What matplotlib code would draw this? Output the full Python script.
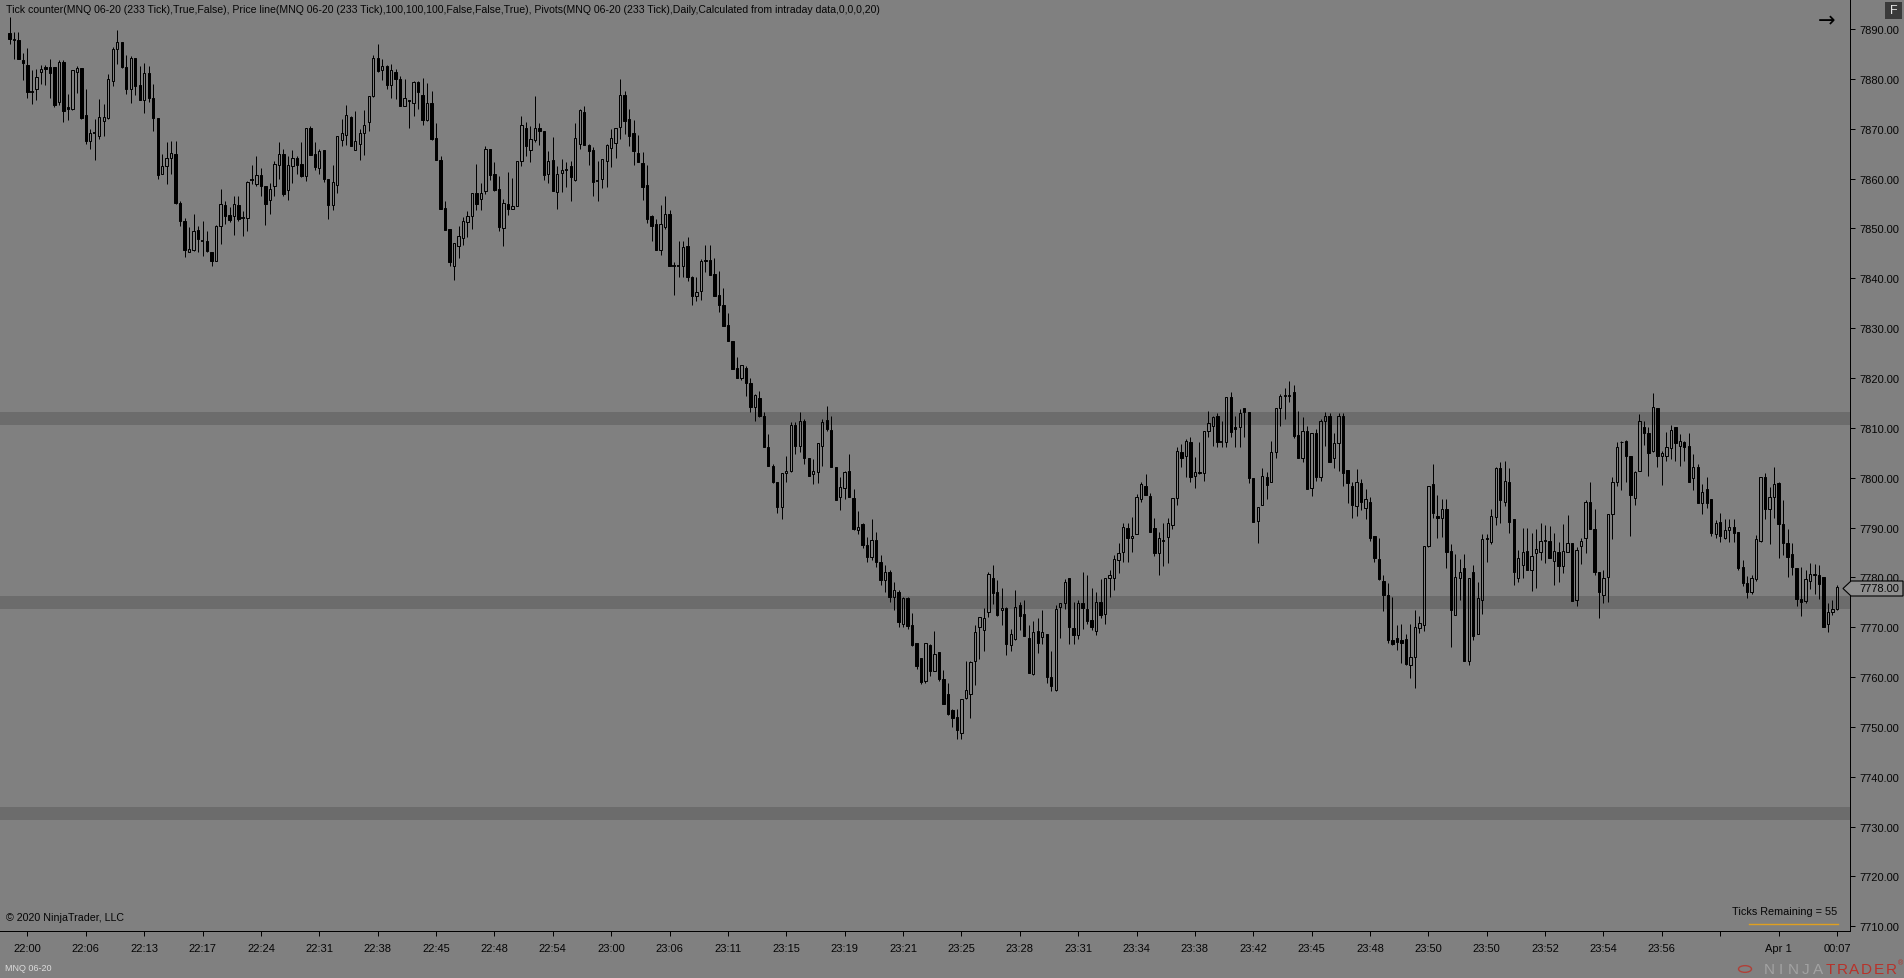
import matplotlib
matplotlib.use("Agg")
import matplotlib.pyplot as plt
from matplotlib.patches import Polygon, Rectangle
import numpy as np

# ---------------- data ----------------
opens = [
7889.2,7887.7,7887.8,7883.8,7882.8,7877.3,7877.9,7881.3,7882.3,7882.3,
7882.3,7875.3,7883.3,7874.3,7873.9,7881.3,7882.2,7872.8,7867.5,7869.1,
7868.5,7871.6,7872.1,7879.6,7885.9,7887.3,7882.3,7878.0,7884.2,7878.8,
7875.8,7881.2,7876.2,7872.1,7860.9,7862.6,7864.1,7865.0,7855.1,7851.4,
7845.3,7845.7,7849.7,7847.4,7847.4,7845.2,7843.5,7850.5,7854.7,7852.7,
7852.4,7854.6,7852.0,7852.0,7859.8,7858.9,7860.7,7858.6,7855.6,7858.6,
7862.8,7864.9,7857.8,7862.6,7864.1,7862.9,7860.6,7870.1,7864.9,7862.1,
7865.7,7860.0,7854.6,7858.8,7867.8,7868.7,7872.3,7865.8,7866.9,7869.1,
7871.3,7876.6,7884.1,7881.8,7882.6,7878.8,7881.3,7880.0,7874.6,7875.6,
7875.2,7879.4,7876.8,7871.8,7875.2,7868.1,7863.7,7854.1,7849.9,7842.5,
7846.5,7848.0,7851.3,7852.4,7857.1,7855.8,7857.6,7865.9,7860.9,7857.9,
7850.0,7854.9,7853.9,7854.4,7863.5,7870.1,7865.8,7867.8,7870.1,7869.6,
7861.0,7863.7,7857.4,7861.1,7861.9,7862.6,7859.8,7866.9,7873.3,7866.7,
7865.7,7859.6,7860.0,7863.6,7866.1,7867.1,7870.3,7876.8,7872.0,7869.1,
7865.1,7863.1,7858.7,7852.4,7850.8,7845.7,7850.2,7852.9,7842.4,7842.4,
7842.4,7846.4,7840.2,7836.4,7837.4,7843.7,7843.7,7840.8,7836.6,7834.6,
7830.6,7827.4,7821.9,7820.0,7822.0,7819.0,7814.1,7815.9,7812.3,7806.1,
7802.3,7799.1,7794.1,7800.9,7801.3,7810.6,7806.4,7811.4,7803.9,7800.7,
7801.1,7806.4,7811.6,7809.6,7802.1,7796.1,7797.9,7801.3,7796.0,7789.6,
7790.7,7786.5,7784.0,7787.5,7783.0,7779.5,7781.0,7776.0,7777.0,7770.6,
7775.8,7770.4,7766.8,7763.8,7759.3,7766.5,7761.3,7765.0,7759.6,7756.6,
7753.4,7751.9,7748.7,7755.7,7756.7,7763.3,7770.0,7769.5,7773.0,7779.8,
7777.0,7773.4,7773.9,7766.5,7767.6,7774.5,7772.6,7767.8,7760.6,7769.3,
7768.0,7768.6,7760.0,7757.5,7774.0,7774.8,7779.8,7769.8,7768.5,7774.8,
7773.7,7771.4,7769.3,7775.0,7772.6,7779.8,7779.8,7783.5,7785.0,7790.0,
7787.8,7788.6,7795.7,7798.3,7796.4,7789.9,7784.8,7787.2,7788.0,7790.6,
7796.0,7805.1,7804.3,7807.1,7800.3,7801.2,7800.9,7809.3,7810.3,7812.3,
7807.1,7807.1,7816.1,7810.1,7810.1,7813.9,7813.1,7799.9,7791.4,7794.6,
7800.2,7799.1,7805.1,7813.9,7816.3,7816.4,7817.1,7808.6,7804.0,7809.3,
7797.9,7808.9,7800.2,7811.3,7812.3,7804.0,7806.9,7812.3,7801.5,7798.3,
7794.3,7798.9,7793.9,7795.2,7788.2,7783.7,7779.3,7776.5,7767.5,7767.8,
7767.4,7767.6,7762.5,7764.0,7769.8,7770.5,7786.2,7798.7,7792.4,7791.9,
7793.7,7785.2,7772.5,7779.8,7781.8,7763.2,7781.0,7768.6,7775.5,7787.8,
7787.0,7792.2,7801.9,7795.2,7799.1,7791.8,7779.8,7782.5,7785.2,7781.5,
7784.8,7785.0,7787.2,7787.2,7783.2,7785.0,7782.2,7785.0,7786.8,7775.5,
7786.2,7787.8,7795.2,7789.7,7781.0,7776.5,7780.0,7792.8,7799.1,7807.1,
7807.4,7804.3,7796.0,7801.4,7810.1,7808.9,7805.3,7813.9,7804.3,7804.4,
7805.9,7810.1,7806.4,7807.2,7806.3,7799.9,7802.1,7794.9,7797.7,7795.8,
7788.7,7791.2,7787.8,7789.6,7790.2,7789.0,7782.0,7778.8,7777.0,7779.7,
7787.2,7800.1,7793.7,7796.2,7798.9,7790.7,7786.9,7784.7,7781.8,7775.7,
7775.3,7779.2,7780.5,7780.5,7780.0,7770.7,7773.1,7773.7]

highs = [
7892.5,7889.5,7889.5,7885.2,7886.2,7881.7,7882.0,7882.8,7882.7,7884.0,
7882.3,7883.7,7883.7,7877.0,7881.8,7882.5,7882.2,7878.0,7870.0,7872.0,
7876.0,7875.0,7881.0,7886.3,7889.8,7887.3,7884.7,7884.5,7884.2,7882.6,
7883.2,7882.6,7879.0,7872.1,7865.0,7867.3,7867.6,7867.6,7855.4,7852.0,
7850.2,7852.9,7850.5,7851.5,7849.5,7845.2,7850.6,7857.9,7855.4,7854.2,
7856.6,7856.6,7853.4,7859.6,7862.7,7864.6,7862.2,7858.6,7859.2,7863.6,
7867.3,7865.9,7864.6,7865.8,7864.6,7867.3,7870.1,7870.5,7867.3,7866.0,
7865.8,7860.0,7862.7,7868.5,7872.0,7874.8,7872.6,7873.5,7870.0,7873.8,
7876.6,7884.8,7887.0,7884.0,7882.8,7883.0,7882.0,7880.5,7880.0,7875.8,
7879.6,7879.6,7880.1,7879.2,7877.6,7871.1,7864.6,7855.4,7849.9,7847.1,
7850.4,7852.2,7853.5,7857.1,7862.9,7859.2,7866.5,7865.9,7863.3,7860.6,
7855.8,7861.4,7860.2,7863.6,7872.5,7871.3,7870.5,7876.5,7871.1,7869.6,
7865.6,7868.4,7862.6,7863.9,7863.3,7863.6,7871.1,7874.0,7874.6,7866.9,
7866.3,7863.5,7863.9,7866.9,7869.9,7870.1,7880.0,7877.5,7874.0,7871.7,
7868.7,7865.3,7862.7,7852.6,7851.9,7854.7,7856.6,7853.6,7843.3,7847.5,
7847.5,7848.2,7840.5,7840.2,7843.9,7846.7,7846.7,7844.0,7841.5,7838.1,
7833.0,7827.4,7824.3,7822.6,7822.3,7820.0,7816.8,7817.3,7813.1,7808.8,
7802.7,7799.2,7800.9,7804.4,7811.1,7811.1,7813.1,7811.8,7803.9,7803.7,
7806.9,7811.8,7814.4,7812.3,7802.1,7800.1,7801.4,7804.7,7797.7,7793.4,
7791.0,7788.0,7791.8,7789.0,7784.5,7782.5,7781.5,7779.0,7777.5,7776.0,
7776.0,7772.8,7766.8,7763.8,7766.8,7766.6,7769.2,7765.0,7761.4,7758.8,
7753.6,7753.6,7755.5,7763.2,7763.2,7770.5,7772.0,7773.8,7781.1,7782.5,
7779.5,7777.8,7774.1,7769.6,7777.5,7775.0,7775.5,7770.5,7771.2,7771.8,
7773.4,7768.6,7765.3,7774.4,7774.8,7779.7,7779.8,7775.0,7775.5,7781.1,
7780.5,7777.8,7777.0,7779.7,7779.8,7781.5,7784.5,7786.9,7791.0,7791.0,
7792.2,7796.7,7799.2,7800.7,7796.9,7792.0,7789.0,7791.0,7792.0,7796.0,
7806.1,7806.7,7807.8,7808.1,7804.1,7807.2,7809.3,7813.3,7812.4,7812.9,
7811.4,7816.1,7817.1,7812.4,7813.8,7813.9,7813.1,7799.9,7794.2,7801.9,
7801.1,7807.4,7813.9,7816.8,7818.0,7819.3,7818.5,7813.4,7812.2,7810.3,
7808.9,7809.8,7811.8,7813.2,7813.0,7808.9,7813.0,7813.0,7801.5,7799.2,
7801.7,7799.7,7797.7,7796.1,7788.2,7787.9,7780.5,7778.8,7776.0,7770.4,
7770.6,7768.6,7770.6,7773.5,7772.2,7786.2,7798.3,7802.7,7796.5,7795.7,
7795.7,7786.7,7784.7,7783.7,7784.7,7779.8,7782.5,7779.0,7788.7,7788.7,
7793.7,7802.2,7803.1,7803.4,7801.9,7791.8,7785.4,7790.0,7790.0,7788.9,
7789.8,7791.0,7790.6,7790.4,7788.9,7787.0,7790.7,7792.5,7786.8,7786.0,
7787.8,7795.5,7799.1,7793.8,7781.0,7781.5,7792.8,7800.1,7807.2,7807.4,
7807.5,7804.3,7801.4,7812.8,7811.4,7810.2,7817.0,7813.9,7805.3,7809.1,
7810.6,7810.1,7808.8,7807.4,7808.9,7804.7,7802.7,7798.7,7800.1,7795.8,
7791.5,7793.0,7791.7,7791.8,7791.8,7789.0,7783.4,7780.3,7780.5,7788.4,
7800.1,7800.9,7798.1,7802.1,7799.1,7795.5,7789.8,7786.8,7781.8,7782.0,
7781.5,7782.8,7782.7,7782.5,7780.0,7774.9,7775.5,7778.5]

lows = [
7887.0,7884.0,7883.9,7879.7,7876.2,7874.9,7875.7,7878.9,7878.7,7876.2,
7874.3,7874.8,7871.3,7871.8,7873.7,7877.2,7872.0,7867.0,7866.0,7863.7,
7868.0,7868.6,7872.0,7878.6,7883.0,7882.1,7877.0,7875.2,7876.8,7875.8,
7873.1,7875.4,7869.6,7860.0,7860.9,7858.9,7860.9,7854.9,7850.5,7844.2,
7845.2,7845.5,7845.2,7844.5,7845.2,7842.4,7843.5,7846.9,7850.9,7851.2,
7848.7,7851.5,7848.5,7849.5,7858.9,7858.6,7856.6,7850.7,7852.9,7856.6,
7860.0,7856.6,7855.6,7859.2,7860.9,7860.4,7859.6,7864.7,7861.8,7861.0,
7859.4,7851.9,7853.6,7857.2,7866.5,7866.8,7866.5,7865.8,7863.8,7864.8,
7869.6,7876.3,7881.3,7879.8,7878.0,7876.2,7876.0,7874.6,7874.5,7870.1,
7872.6,7874.0,7870.7,7871.6,7867.8,7863.8,7853.9,7849.7,7842.5,7839.7,
7844.0,7846.7,7848.2,7849.8,7853.6,7853.6,7857.0,7859.8,7857.6,7849.5,
7846.5,7852.6,7853.9,7854.4,7862.6,7864.6,7863.4,7867.3,7866.8,7859.8,
7859.2,7857.6,7853.9,7857.4,7858.4,7855.4,7859.6,7865.9,7866.7,7862.7,
7856.6,7855.4,7858.2,7858.4,7862.3,7864.1,7867.9,7868.9,7866.6,7862.7,
7863.4,7855.6,7851.0,7847.5,7845.6,7844.7,7849.9,7842.4,7836.7,7840.2,
7840.2,7839.5,7834.7,7835.5,7835.7,7841.2,7840.7,7836.5,7833.2,7830.5,
7827.4,7821.8,7820.0,7819.5,7816.4,7813.1,7811.4,7812.1,7806.1,7802.4,
7798.9,7792.9,7791.7,7799.2,7801.1,7804.7,7805.1,7802.7,7800.3,7798.7,
7798.9,7802.4,7809.4,7802.1,7795.6,7793.6,7795.7,7796.2,7789.6,7788.7,
7785.8,7783.0,7783.5,7782.0,7778.5,7777.0,7775.0,7773.5,7770.0,7770.0,
7769.6,7766.3,7761.6,7758.6,7758.9,7760.3,7761.3,7759.3,7754.5,7752.3,
7749.9,7747.6,7747.6,7755.6,7751.8,7758.5,7763.7,7765.3,7772.0,7774.7,
7772.3,7770.5,7764.5,7765.3,7767.4,7769.5,7768.3,7760.8,7760.5,7764.8,
7766.6,7758.8,7757.3,7757.3,7767.8,7773.7,7766.6,7766.6,7767.6,7769.6,
7770.6,7769.5,7768.5,7771.8,7770.6,7776.0,7777.5,7780.8,7783.0,7783.1,
7785.0,7788.6,7795.2,7796.6,7789.0,7784.2,7780.5,7782.2,7782.9,7789.7,
7794.6,7802.2,7800.1,7799.1,7797.9,7800.7,7799.4,7808.1,7806.4,7806.2,
7806.2,7806.1,7808.2,7806.2,7806.2,7808.2,7798.9,7791.2,7786.9,7794.6,
7795.7,7799.1,7804.0,7810.4,7811.8,7815.2,7808.0,7804.0,7803.2,7797.7,
7796.3,7799.4,7799.4,7806.4,7803.1,7801.9,7801.3,7798.3,7794.9,7791.9,
7792.4,7793.6,7791.8,7787.2,7783.1,7779.5,7773.3,7766.8,7766.5,7765.5,
7762.8,7762.5,7759.8,7757.8,7768.8,7769.3,7786.0,7792.0,7787.9,7788.0,
7781.9,7766.0,7772.5,7775.5,7763.3,7762.5,7767.5,7768.6,7772.6,7783.1,
7786.7,7790.6,7790.9,7794.3,7788.9,7778.5,7779.1,7779.9,7781.5,7777.2,
7777.9,7783.4,7782.8,7783.8,7778.5,7779.0,7780.8,7785.0,7775.2,7774.3,
7782.7,7784.8,7789.8,7780.5,7771.8,7774.9,7775.1,7787.7,7798.3,7797.6,
7799.1,7788.2,7794.6,7801.3,7806.6,7800.4,7805.2,7802.1,7798.6,7803.3,
7803.7,7803.3,7802.3,7803.4,7799.2,7797.6,7794.9,7792.7,7794.0,7788.2,
7787.8,7787.0,7787.6,7787.0,7787.0,7781.5,7778.2,7775.9,7776.7,7779.3,
7787.0,7791.7,7786.6,7792.0,7783.9,7784.4,7780.0,7780.5,7774.3,7772.3,
7774.9,7777.7,7776.7,7775.6,7770.0,7769.0,7772.5,7773.5]

closes = [
7887.9,7887.9,7883.9,7883.1,7877.3,7877.3,7880.3,7882.0,7882.0,7881.1,
7874.8,7883.3,7873.6,7874.0,7881.8,7882.2,7872.2,7867.5,7869.2,7869.1,
7872.3,7872.3,7880.0,7886.0,7887.3,7882.3,7878.0,7884.2,7878.6,7875.8,
7881.2,7876.2,7872.1,7860.7,7862.6,7864.1,7865.1,7855.0,7851.4,7845.7,
7845.9,7849.4,7847.9,7847.4,7845.4,7843.5,7850.5,7854.9,7852.4,7851.7,
7854.8,7851.8,7852.0,7859.4,7859.8,7860.7,7858.6,7854.8,7858.0,7862.9,
7864.9,7856.9,7862.7,7864.1,7862.7,7860.6,7870.1,7864.8,7862.4,7865.5,
7860.0,7854.6,7859.4,7868.5,7869.1,7872.7,7866.5,7867.5,7869.1,7870.8,
7876.6,7884.1,7881.6,7882.6,7878.8,7881.7,7880.0,7874.6,7876.1,7875.6,
7879.4,7877.3,7871.8,7875.2,7867.9,7863.8,7853.9,7849.7,7843.2,7847.1,
7848.4,7851.4,7852.4,7857.1,7854.8,7857.1,7865.9,7860.8,7857.7,7850.3,
7855.1,7853.9,7854.4,7863.5,7870.8,7866.5,7867.9,7870.1,7869.6,7860.8,
7863.5,7857.6,7860.9,7861.7,7861.7,7860.4,7868.1,7873.8,7866.7,7865.6,
7859.4,7859.6,7863.9,7866.8,7868.1,7870.1,7876.8,7871.6,7868.6,7865.6,
7863.4,7858.4,7851.9,7850.4,7845.7,7850.9,7852.9,7842.4,7842.4,7842.4,
7846.3,7840.2,7836.4,7837.2,7843.5,7843.4,7840.7,7836.5,7834.7,7830.5,
7827.4,7821.8,7820.0,7822.6,7819.0,7814.1,7816.5,7812.3,7806.1,7802.4,
7799.1,7794.2,7800.9,7801.4,7810.6,7806.4,7811.3,7803.9,7800.4,7801.3,
7806.9,7811.1,7809.8,7802.1,7795.6,7798.1,7801.1,7796.2,7789.7,7790.2,
7786.5,7784.0,7787.5,7783.0,7779.5,7781.0,7776.0,7777.5,7771.0,7775.8,
7770.3,7766.4,7762.3,7759.1,7766.8,7761.3,7764.6,7759.6,7754.6,7752.6,
7751.8,7749.3,7755.5,7757.5,7763.0,7769.0,7772.0,7771.8,7780.7,7776.8,
7772.5,7773.9,7766.6,7768.6,7774.0,7772.3,7768.3,7760.9,7769.0,7766.8,
7769.0,7760.0,7758.3,7773.7,7774.8,7779.1,7770.0,7768.4,7774.9,7773.8,
7771.3,7770.0,7775.0,7772.5,7779.8,7780.5,7783.7,7784.8,7790.2,7787.8,
7788.2,7796.1,7798.7,7796.6,7789.0,7784.8,7787.8,7787.2,7790.9,7796.0,
7805.3,7804.0,7807.4,7800.2,7801.1,7800.9,7809.3,7810.9,7812.2,7807.2,
7807.1,7816.1,7809.2,7809.8,7813.0,7813.1,7799.9,7791.2,7794.2,7800.3,
7798.6,7805.1,7813.9,7816.3,7816.6,7816.4,7808.3,7804.0,7809.3,7797.7,
7808.9,7800.2,7811.3,7812.3,7803.1,7806.9,7812.4,7800.9,7798.9,7794.6,
7799.1,7795.2,7795.7,7787.9,7783.8,7779.7,7776.5,7767.5,7766.6,7767.0,
7766.8,7762.6,7764.0,7770.0,7770.8,7786.2,7798.3,7793.0,7791.9,7793.7,
7785.0,7773.5,7780.0,7781.0,7763.3,7779.8,7768.3,7775.8,7787.7,7787.6,
7792.4,7801.9,7795.6,7799.4,7791.2,7781.1,7783.8,7785.0,7781.5,7784.2,
7785.6,7787.2,7787.2,7783.8,7785.2,7782.2,7785.2,7786.8,7775.2,7785.5,
7787.2,7795.2,7789.8,7781.1,7777.0,7779.8,7792.8,7799.1,7806.1,7807.2,
7804.3,7796.6,7801.2,7811.4,7808.9,7805.0,7814.1,7804.4,7805.0,7806.1,
7809.6,7806.9,7807.4,7806.2,7799.2,7802.1,7794.9,7797.1,7794.9,7788.9,
7791.0,7788.2,7789.6,7790.2,7788.9,7781.9,7778.8,7777.0,7779.8,7787.6,
7800.1,7793.8,7796.1,7798.7,7790.7,7786.9,7784.0,7782.0,7775.7,7775.0,
7779.7,7780.7,7780.7,7778.7,7770.0,7773.0,7773.7,7778.0]

pivot_levels = [7811.9, 7774.9, 7732.6]
xtick_labels = ["22:00", "22:06", "22:13", "22:17", "22:24", "22:31", "22:38",
                "22:45", "22:48", "22:54", "23:00", "23:06", "23:11", "23:15",
                "23:19", "23:21", "23:25", "23:28", "23:31", "23:34", "23:38",
                "23:42", "23:45", "23:48", "23:50", "23:50", "23:52", "23:54",
                "23:56", "", "Apr 1", "00:07"]
ytick_values = list(range(7710, 7891, 10))
last_price = 7778.00

# ---------------- figure ----------------
W, H = 1904, 979
BG = "#808080"
FONT = "Liberation Sans"
TXT = "#050505"
plt.rcParams["font.family"] = [FONT, "DejaVu Sans"]

fig = plt.figure(figsize=(W / 100, H / 100), dpi=100, facecolor=BG)

def fx(x):
    return x / W

def fy(y):
    return 1 - y / H

ax_right, ax_bottom = 1850, 932
ax = fig.add_axes([0, fy(ax_bottom), fx(ax_right), ax_bottom / H])
ax.set_facecolor(BG)

n = len(opens)
x = np.arange(n)
o = np.array(opens); c = np.array(closes); hi = np.array(highs); lo = np.array(lows)

# pivot bands
for lvl in pivot_levels:
    ax.axhspan(lvl - 1.3, lvl + 1.3, color="#6c6c6c", lw=0, zorder=1)

top = np.maximum(o, c)
bot = np.minimum(o, c)
px = 0.72
ax.vlines(x, top, hi, color="black", lw=px, zorder=3)
ax.vlines(x, lo, bot, color="black", lw=px, zorder=3)

bw = 0.52
up = c > o
dn = c < o
dj = c == o
ax.bar(x[dn], (top - bot)[dn], bottom=bot[dn], width=bw, facecolor="black",
       edgecolor="black", linewidth=px, zorder=4)
ax.bar(x[up], (top - bot)[up], bottom=bot[up], width=bw, facecolor="none",
       edgecolor="black", linewidth=px, zorder=4)
ax.hlines(c[dj], x[dj] - bw / 2 - 0.1, x[dj] + bw / 2 + 0.1, color="black",
          lw=1.3, zorder=4)

ax.set_xlim(-2.116, 409.9)
ax.set_ylim(7709.06, 7896.02)

for s in ["left", "top"]:
    ax.spines[s].set_visible(False)
for s in ["right", "bottom"]:
    ax.spines[s].set_color("black")
    ax.spines[s].set_linewidth(px)

ax.yaxis.tick_right()
ax.set_yticks(ytick_values)
ax.set_yticklabels([f"{v:.2f}" for v in ytick_values])
xt = [4 + 13 * k for k in range(len(xtick_labels))]
ax.set_xticks(xt)
ax.set_xticklabels(xtick_labels)
ax.tick_params(axis="both", direction="out", length=3.6, width=px,
               colors="black", labelsize=8.0, labelcolor=TXT)
ax.tick_params(axis="y", pad=3)
ax.tick_params(axis="x", pad=5)

# ---------------- annotations ----------------
fig.text(fx(6), fy(10), "Tick counter(MNQ 06-20 (233 Tick),True,False), Price line(MNQ 06-20 (233 Tick),100,100,100,False,False,True), Pivots(MNQ 06-20 (233 Tick),Daily,Calculated from intraday data,0,0,0,20)",
         fontsize=7.55, color=TXT, ha="left", va="center")
fig.text(fx(6), fy(918), "\u00a9 2020 NinjaTrader, LLC", fontsize=7.7,
         color=TXT, ha="left", va="center")
fig.text(fx(5), fy(969), "MNQ 06-20", fontsize=6.5, color="#dcdcdc",
         ha="left", va="center")
fig.text(fx(1837), fy(912), "Ticks Remaining = 55", fontsize=7.8,
         color=TXT, ha="right", va="center")
fig.add_artist(plt.Line2D([fx(1749), fx(1838)], [fy(925), fy(925)],
                          color="#e0a020", lw=1.0))

# arrow + F box
fig.text(fx(1827), fy(21), "\u2192", fontsize=15, color="black",
         family="DejaVu Sans", ha="center", va="center")
fig.add_artist(Rectangle((fx(1885), fy(20)), fx(17), 17 / H,
                         transform=fig.transFigure, facecolor="#3a3a3a",
                         edgecolor="none"))
fig.text(fx(1893.5), fy(11.5), "F", fontsize=9, color="#e6e6e6",
         ha="center", va="center")

# price marker
pts = [(1843, 589.5), (1851, 582), (1903, 582), (1903, 597), (1851, 597)]
fig.add_artist(Polygon([(fx(a), fy(b)) for a, b in pts], closed=True,
                       transform=fig.transFigure, facecolor="#8e8e8e",
                       edgecolor="black", lw=0.8))
fig.text(fx(1859), fy(589.5), f"{last_price:.2f}", fontsize=8.0,
         color=TXT, ha="left", va="center")

# logo
fig.add_artist(plt.Circle((fx(1745), fy(970)), 6.5 / W,
                          transform=fig.transFigure, facecolor="none",
                          edgecolor="#b04038", lw=1.0))
logo = "NINJATRADER"
for j, ch in enumerate(logo):
    fig.text(fx(1769 + 12.2 * j), fy(970), ch, fontsize=11,
             color="#a2a2a2" if j < 5 else "#b8322a", ha="center",
             va="center")
fig.text(fx(1900), fy(964), "\u00ae", fontsize=5, color="#b8322a",
         ha="center", va="center")

fig.savefig("out.png", dpi=100, facecolor=BG)
